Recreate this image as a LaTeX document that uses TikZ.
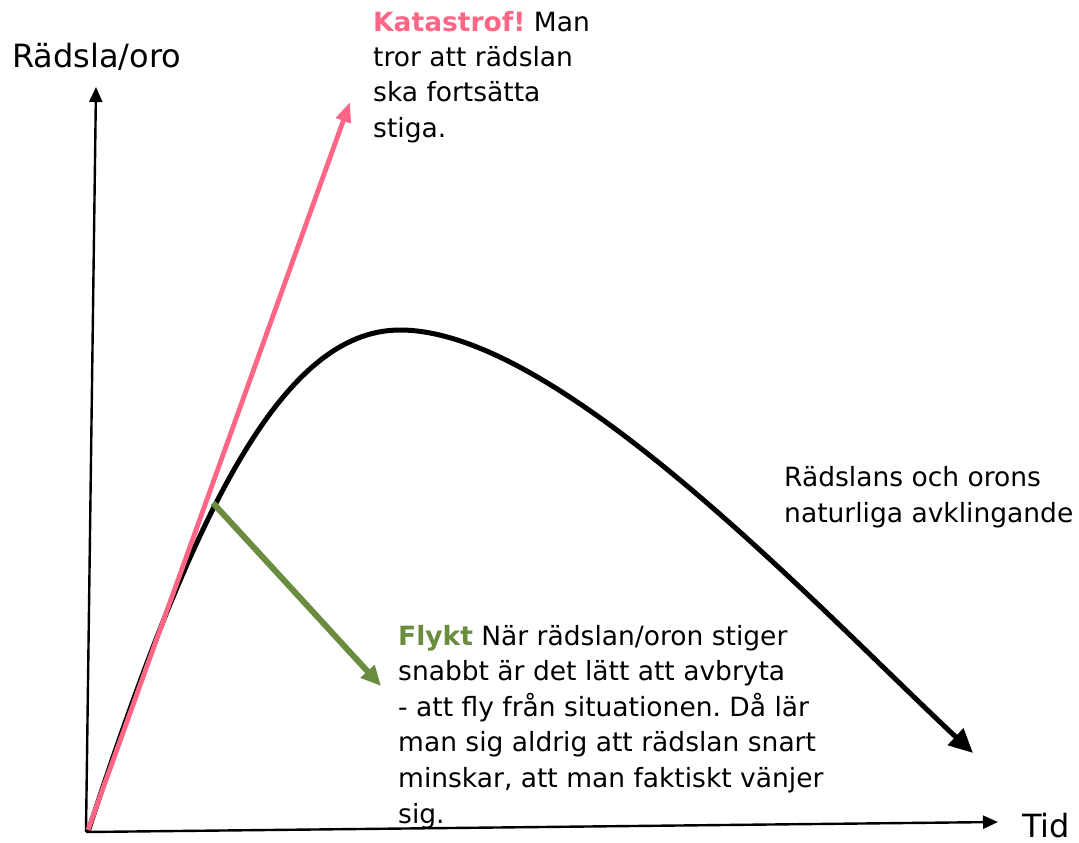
\documentclass[tikz,border=0pt]{standalone}
\usepackage{fontspec}
\setmainfont{DejaVu Sans}
\usetikzlibrary{arrows.meta}
\frenchspacing
\definecolor{kpink}{HTML}{FF6685}
\definecolor{fgreen}{HTML}{6A8C3F}
\tikzset{
  axis/.style={line width=2.4pt,-{Triangle[length=15pt,width=13pt]}},
  txt/.style={inner sep=0pt,anchor=base west,align=left,font=\fontsize{26.5}{36}\selectfont},
  bigtxt/.style={inner sep=0pt,anchor=base west,font=\fontsize{32}{36}\selectfont},
}
\begin{document}
\begin{tikzpicture}[x=1pt,y=-1pt]
\useasboundingbox (0,0) rectangle (1079,843);
\coordinate (O) at (86,832);
\coordinate (ytop) at (96,87);
\coordinate (xend) at (998,822);
\coordinate (kat) at (350,102);
\coordinate (peak) at (400,330);
\coordinate (fstart) at (213,503);
\coordinate (fend) at (381,686);
\coordinate (nend) at (973,753);
\draw[axis] (O) -- (ytop);
\draw[axis] (O) -- (xend);
\node[bigtxt] (ylab) at (12,68) {Rädsla/oro};
\node[bigtxt] (xlab) at (1022,837) {Tid};
\draw[line width=5pt,-{Triangle[length=24pt,width=22pt]}] (88,832) .. controls (190,520) and (280,330) .. (peak) .. controls (560,330) and (820,610) .. (nend);
\draw[kpink,line width=4.8pt,-{Triangle[length=20pt,width=15pt]}] (88,830) -- (kat);
\draw[fgreen,line width=6pt,-{Triangle[length=20pt,width=18pt]}] (fstart) -- (fend);
\node[txt,font=\fontsize{26.5}{35.3}\selectfont] (katlab) at (373,137) {\textcolor{kpink}{\textbf{Katastrof!}} Man\\tror att rädslan\\ska fortsätta\\stiga.};
\node[txt] (natlab) at (784,522) {Rädslans och orons\\naturliga avklingande};
\node[txt,font=\fontsize{26.5}{35.6}\selectfont] (flabel) at (398,823) {\textcolor{fgreen}{\textbf{Flykt}} När rädslan/oron stiger\\snabbt är det lätt att avbryta\\- att fly från situationen. Då lär\\man sig aldrig att rädslan snart\\minskar, att man faktiskt vänjer\\sig.};
\end{tikzpicture}
\end{document}
